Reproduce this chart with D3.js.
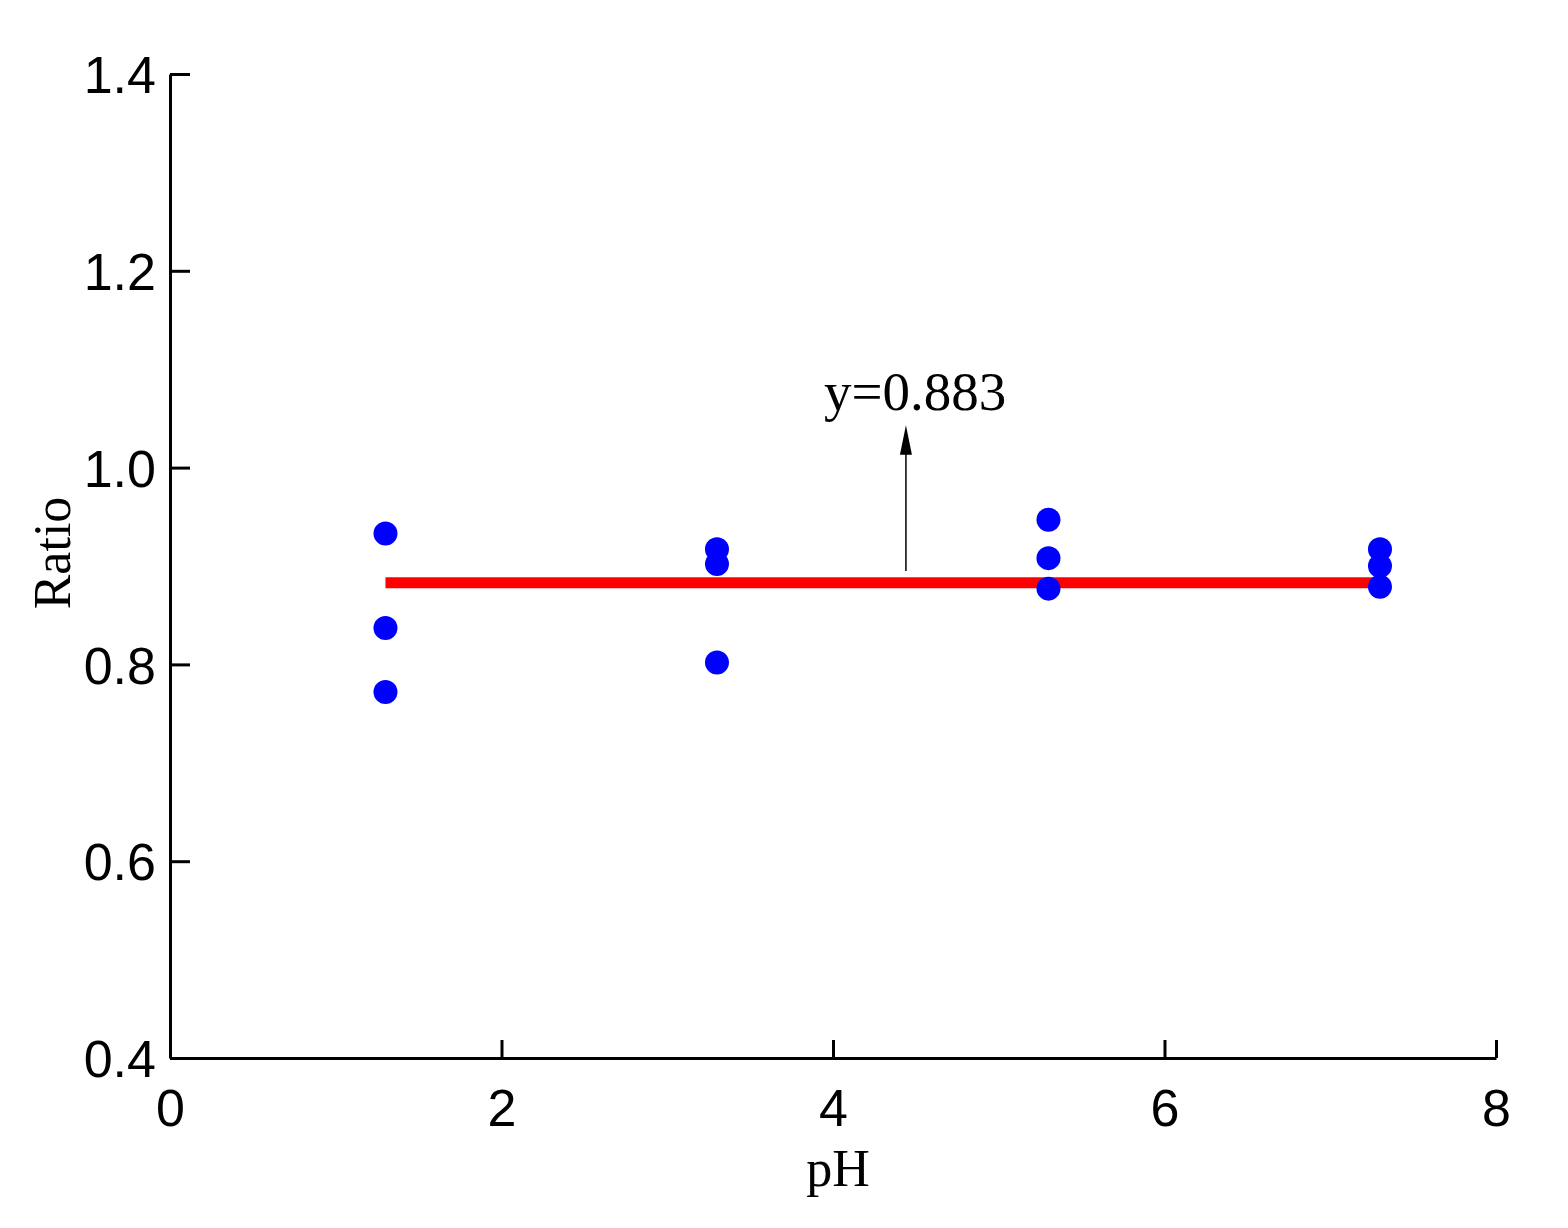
<!DOCTYPE html>
<html><head><meta charset="utf-8">
<script src="https://cdn.jsdelivr.net/npm/d3@7"></script>
<style>body{margin:0;background:#fff}</style>
</head><body>
<script>
//data
var phValues = [1.3, 1.3, 1.3, 3.3, 3.3, 3.3, 5.3, 5.3, 5.3, 7.3, 7.3, 7.3];
var ratioValues = [0.933, 0.837, 0.772, 0.917, 0.902, 0.802, 0.947, 0.908, 0.877, 0.917, 0.900, 0.879];
var fitValue = 0.883;
var xTicks = [0, 2, 4, 6, 8];
var yTicks = [0.4, 0.6, 0.8, 1.0, 1.2, 1.4];

var width = 1568, height = 1228;
var svg = d3.select("body").append("svg").attr("width", width).attr("height", height);

var x = d3.scaleLinear().domain([0, 8]).range([170, 1496]);
var y = d3.scaleLinear().domain([0.4, 1.4]).range([1058, 74]);

//axes with inward ticks
var xAxis = svg.append("g").attr("transform", "translate(0,1058)")
    .call(d3.axisBottom(x).tickValues(xTicks).tickSizeInner(-18).tickSizeOuter(0).tickFormat(d3.format("d")));
var yAxis = svg.append("g").attr("transform", "translate(170,0)")
    .call(d3.axisLeft(y).tickValues(yTicks).tickSizeInner(-20).tickSizeOuter(0).tickFormat(d3.format(".1f")));

[xAxis, yAxis].forEach(function(a) {
    a.select(".domain").attr("stroke", "#000").attr("stroke-width", 3);
    a.selectAll(".tick line").attr("stroke", "#000").attr("stroke-width", 3);
    a.selectAll("text").attr("font-family", "Liberation Sans, Arial").attr("font-size", 52).attr("fill", "#000");
});
xAxis.selectAll("text").attr("dy", null).attr("y", 1126 - 1058);
yAxis.selectAll("text").attr("x", -14).attr("dy", "0.36em");

//labels
svg.append("text").attr("x", 838).attr("y", 1186).attr("text-anchor", "middle")
    .attr("font-family", "Liberation Serif, Times New Roman").attr("font-size", 52).text("pH");
svg.append("text").attr("transform", "translate(70,553) rotate(-90)").attr("text-anchor", "middle")
    .attr("font-family", "Liberation Serif, Times New Roman").attr("font-size", 52).text("Ratio");

//fit line
svg.append("line")
    .attr("x1", x(d3.min(phValues))).attr("x2", x(d3.max(phValues)))
    .attr("y1", y(fitValue)).attr("y2", y(fitValue))
    .attr("stroke", "#ff0000").attr("stroke-width", 11);

//points
svg.selectAll("circle").data(phValues).enter().append("circle")
    .attr("cx", function(d) { return x(d); })
    .attr("cy", function(d, i) { return y(ratioValues[i]); })
    .attr("r", 12).attr("fill", "#0000ff");

//annotation arrow
var ax = x(4.44);
svg.append("line").attr("x1", ax).attr("x2", ax).attr("y1", y(0.895)).attr("y2", y(1.025))
    .attr("stroke", "#000").attr("stroke-width", 1.5);
svg.append("path").attr("d", "M" + (ax - 6) + "," + y(1.013) + "L" + ax + "," + y(1.043) + "L" + (ax + 6) + "," + y(1.013) + "Z")
    .attr("fill", "#000");
svg.append("text").attr("x", 824).attr("y", 410)
    .attr("font-family", "Liberation Serif, Times New Roman").attr("font-size", 55).text("y=0.883");
</script>
</body></html>
